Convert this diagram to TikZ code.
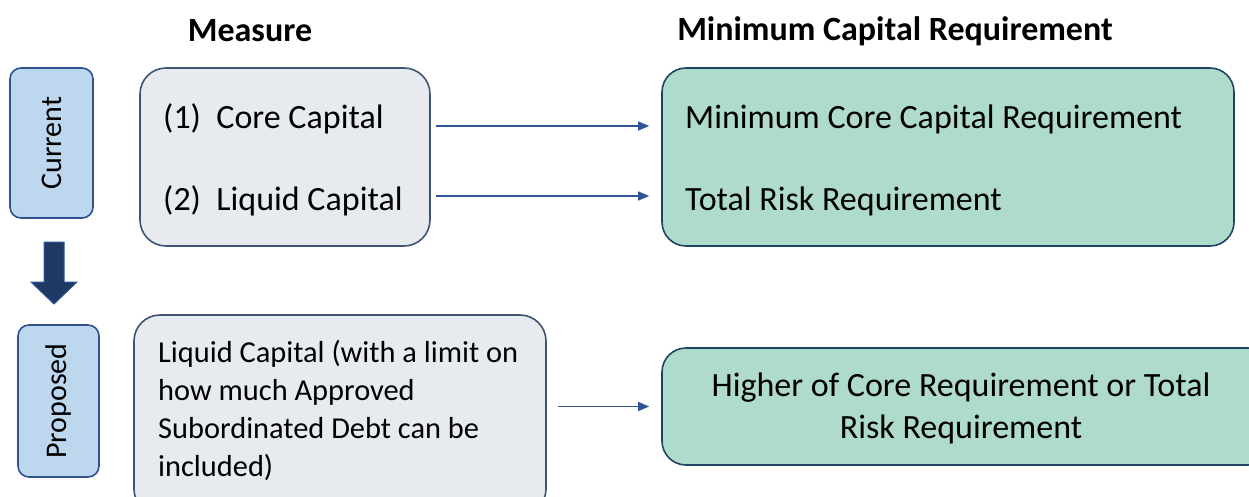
\documentclass[tikz,border=0pt]{standalone}
\usepackage{fontspec}
\setmainfont{Carlito}
\usetikzlibrary{arrows.meta}
\definecolor{curfill}{HTML}{BDD7EE}
\definecolor{curdraw}{HTML}{2F528F}
\definecolor{measfill}{HTML}{E7EBF0}
\definecolor{measdraw}{HTML}{3E5470}
\definecolor{grnfill}{HTML}{AFDBCD}
\definecolor{grndraw}{HTML}{1F4464}
\definecolor{arrcol}{HTML}{2F5597}
\definecolor{navy}{HTML}{1F3864}
\tikzset{
  stagebox/.style={draw=curdraw, fill=curfill, line width=1.6pt, rounded corners=11pt, inner sep=0pt},
  measbox/.style={draw=measdraw, fill=measfill, line width=1.6pt, rounded corners=26pt, inner sep=0pt},
  grnbox/.style={draw=grndraw, fill=grnfill, line width=1.6pt, rounded corners=24pt, inner sep=0pt},
  conn/.style={draw=arrcol, line width=1.3pt, -{Triangle[length=11pt,width=9pt]}},
  hdr/.style={font=\fontsize{34}{40}\selectfont\bfseries, inner sep=0pt},
  big/.style={font=\fontsize{34}{40}\selectfont, inner sep=0pt, anchor=west},
  side/.style={font=\fontsize{30}{36}\selectfont, inner sep=0pt, rotate=90},
}
\begin{document}
\begin{tikzpicture}[x=1pt,y=-1pt]
\useasboundingbox (0,0) rectangle (1249,497);
\begin{scope}
\clip (0,0) rectangle (1249,497);
% headers
\node[hdr] (hm) at (250,31) {Measure};
\node[hdr] (hr) at (895,31) {Minimum Capital Requirement};
% stage boxes
\node[stagebox, minimum width=83pt, minimum height=150pt] (cur) at (51.5,143) {};
\node[side] (curt) at (cur.center) {Current};
\node[stagebox, minimum width=81pt, minimum height=152pt] (prop) at (58.5,401) {};
\node[side] (propt) at (prop.center) {Proposed};
% down arrow
\draw[draw=arrcol, fill=navy, line width=1pt, line join=miter]
  (44,242) -- (64,242) -- (64,282) -- (77,282) -- (54,304) -- (31,282) -- (44,282) -- cycle;
% measure boxes
\node[measbox, minimum width=290pt, minimum height=178pt] (meas) at (285,157) {};
\node[big] (core) at (163,119) {(1)\ \ Core Capital};
\node[big] (liq) at (163,201) {(2)\ \ Liquid Capital};
\node[measbox, minimum width=412pt, minimum height=200pt] (pmeas) at (340,415) {};
\node[font=\fontsize{30.4}{38}\selectfont, inner sep=0pt, anchor=north west, align=left] (ptext) at (158,340)
  {Liquid Capital (with a limit on\\how much Approved\\Subordinated Debt can be\\included)};
% requirement boxes
\node[grnbox, minimum width=572pt, minimum height=178pt] (req) at (948,157) {};
\node[big] (mcr) at (685,119) {Minimum Core Capital Requirement};
\node[big] (trr) at (685,201) {Total Risk Requirement};
\node[grnbox, minimum width=610pt, minimum height=117pt] (preq) at (967,406.5) {};
\node[font=\fontsize{34}{42}\selectfont, inner sep=0pt, align=center] (hig) at (961,408)
  {Higher of Core Requirement or Total\\Risk Requirement};
% connectors
\draw[conn] ([xshift=5pt]meas.east |- 0,126) -- ([xshift=-12pt]req.west |- 0,126);
\draw[conn] ([xshift=5pt]meas.east |- 0,196) -- ([xshift=-12pt]req.west |- 0,196);
\draw[conn] ([xshift=11pt]pmeas.east |- preq.center) -- ([xshift=-12pt]preq.west);
\end{scope}
\end{tikzpicture}
\end{document}
